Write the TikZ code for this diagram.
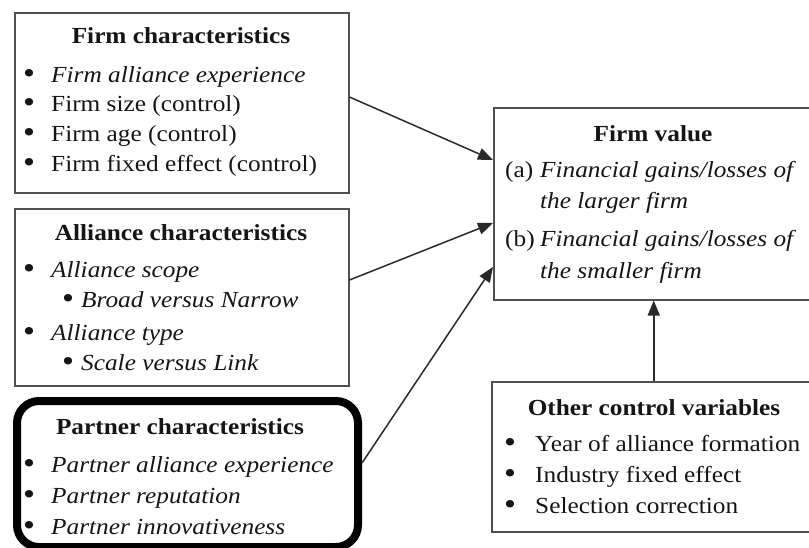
\documentclass[tikz,border=0pt]{standalone}
\usepackage{fontspec}
\setmainfont{Liberation Serif}[FakeStretch=1.1]
\usetikzlibrary{arrows.meta}
\definecolor{txtcol}{HTML}{151515}
\definecolor{boxgray}{HTML}{505050}
\definecolor{arrcol}{HTML}{2A2A2A}
\newcommand{\mydot}{\raisebox{-1.2pt}{\scalebox{1.35}{\textbullet}}}
\newcommand{\mybl}[1]{\makebox[28pt][l]{\mydot}#1}
\newcommand{\mysbl}[1]{\makebox[19pt][l]{\mydot}#1}
\begin{document}
\begin{tikzpicture}[x=1pt,y=-1pt,
  box/.style={draw=boxgray, line width=1.5pt, fill=white, inner sep=0pt, anchor=north west},
  pbox/.style={draw=black, line width=8pt, rounded corners=22pt, fill=white, inner sep=0pt, anchor=north west},
  txt/.style={anchor=base west, inner sep=0pt, font=\fontsize{23}{27}\selectfont, text=txtcol},
  ttl/.style={anchor=base, inner sep=0pt, font=\fontsize{23}{27}\selectfont\bfseries, text=txtcol},
  arr/.style={draw=arrcol, line width=1.5pt, -{Triangle[length=15pt,width=12pt]}}]
\useasboundingbox (0,0) rectangle (809,547);
% boxes
\node[box, minimum width=334pt, minimum height=180pt] (b1) at (14,12) {};
\node[box, minimum width=334pt, minimum height=177pt] (b2) at (14,208) {};
\node[pbox, minimum width=341pt, minimum height=146pt] (b3) at (13,397) {};
\node[box, minimum width=322pt, minimum height=192pt] (b4) at (493,107) {};
\node[box, minimum width=324pt, minimum height=150pt] (b5) at (491,381) {};
% helper coordinates for connector heights
\coordinate (h1) at (0,97);
\coordinate (h2) at (0,280);
\coordinate (h3) at (0,463);
\coordinate (e1) at (0,160);
\coordinate (e2) at (0,223);
\coordinate (e3) at (0,267);
% connectors
\draw[arr] (b1.east |- h1) -- (b4.west |- e1);
\draw[arr] (b2.east |- h2) -- (b4.west |- e2);
\draw[arr] (b3.east |- h3) -- (b4.west |- e3);
\draw[arr] (b5.north) -- (b5.north |- b4.south);
% box 1 text
\node[ttl] (t1) at (181,43) {Firm characteristics};
\node[txt] (t1a) at (23,82) {\mybl{\itshape Firm alliance experience}};
\node[txt] (t1b) at (23,111) {\mybl{Firm size (control)}};
\node[txt] (t1c) at (23,141) {\mybl{Firm age (control)}};
\node[txt] (t1d) at (23,171) {\mybl{Firm fixed effect (control)}};
% box 2 text
\node[ttl] (t2) at (181,240) {Alliance characteristics};
\node[txt] (t2a) at (23,277) {\mybl{\itshape Alliance scope}};
\node[txt] (t2b) at (62,307) {\mysbl{\itshape Broad versus Narrow}};
\node[txt] (t2c) at (23,340) {\mybl{\itshape Alliance type}};
\node[txt] (t2d) at (62,370) {\mysbl{\itshape Scale versus Link}};
% box 3 text
\node[ttl] (t3) at (180,434) {Partner characteristics};
\node[txt] (t3a) at (23,472) {\mybl{\itshape Partner alliance experience}};
\node[txt] (t3b) at (23,503) {\mybl{\itshape Partner reputation}};
\node[txt] (t3c) at (23,534) {\mybl{\itshape Partner innovativeness}};
% box 4 text
\node[ttl] (t4) at (653,141) {Firm value};
\node[txt] (t4a) at (505,177) {(a)};
\node[txt] (t4b) at (540,177) {\itshape Financial gains/losses of};
\node[txt] (t4c) at (540,208) {\itshape the larger firm};
\node[txt] (t4d) at (505,246) {(b)};
\node[txt] (t4e) at (540,246) {\itshape Financial gains/losses of};
\node[txt] (t4f) at (540,278) {\itshape the smaller firm};
% box 5 text
\node[ttl] (t5) at (654,415) {Other control variables};
\node[txt] (t5a) at (504,451) {\makebox[31pt][l]{\mydot}Year of alliance formation};
\node[txt] (t5b) at (504,482) {\makebox[31pt][l]{\mydot}Industry fixed effect};
\node[txt] (t5c) at (504,513) {\makebox[31pt][l]{\mydot}Selection correction};
\end{tikzpicture}
\end{document}
